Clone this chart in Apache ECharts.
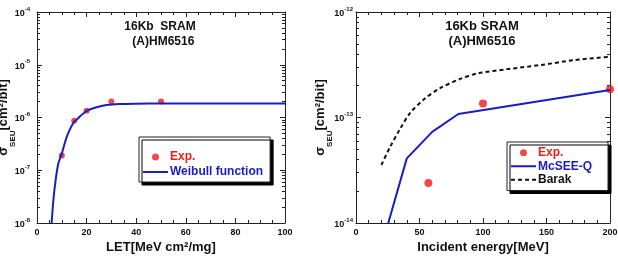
<!DOCTYPE html>
<html>
<head>
<meta charset="utf-8">
<script src="https://cdn.jsdelivr.net/npm/echarts@6/dist/echarts.min.js"></script>
<style>
html, body { margin: 0; padding: 0; background: #fff; }
#main { width: 618px; height: 262px; }
</style>
</head>
<body>
<div id="main"></div>
<script>
// left panel: cross section vs LET
const letExp = [10, 15, 20, 30, 50]
const sigmaLetExp = [1.9e-7, 8.7e-7, 1.34e-6, 2.0e-6, 2.0e-6]
const letFit = [5.9, 6.6, 7.5, 8.6, 10, 12, 14.6, 17.3, 20, 24, 28, 33, 40, 50, 70, 100]
const sigmaLetFit = [1.0e-8, 2.7e-8, 6.4e-8, 1.34e-7, 2.07e-7, 4.3e-7, 7.8e-7, 1.04e-6, 1.34e-6, 1.57e-6, 1.72e-6, 1.8e-6, 1.83e-6, 1.84e-6, 1.84e-6, 1.84e-6]

// right panel: cross section vs proton energy
const energyExp = [57, 100, 200]
const sigmaEnergyExp = [2.4e-14, 1.36e-13, 1.85e-13]
const energyMcsee = [25.4, 40, 60, 80.6, 200]
const sigmaMcsee = [1.0e-14, 4.1e-14, 7.3e-14, 1.08e-13, 1.82e-13]
const energyBarak = [20, 27, 35, 42.5, 53, 66, 82, 96, 120, 146, 172, 200]
const sigmaBarak = [3.55e-14, 5.3e-14, 7.9e-14, 1.1e-13, 1.47e-13, 1.89e-13, 2.32e-13, 2.62e-13, 2.88e-13, 3.15e-13, 3.5e-13, 3.77e-13]

const leftDecades = [-8, -4]
const rightDecades = [-14, -12]

const RED = '#ee1c1c'
const BLUE = '#1c1cc4'
const AX = '#222'
const FONT = '"Liberation Sans", Arial, sans-serif'

// legend icons drawn as thin bars
const solidIcon = 'path://M0,0H25V2H0Z'
const dashIcon = 'path://M0,0H4V2H0Z M7,0H11V2H7Z M14,0H18V2H14Z M21,0H25V2H21Z'

function minorLogTicks(d) {
    let out = []
    for (let e = d[0]; e < d[1]; e++) {
        for (let m = 2; m <= 9; m++) out.push(m * Math.pow(10, e))
    }
    return out
}

const expLabel = {
    formatter: v => '{b|10}{e|' + Math.round(Math.log10(v)) + '}',
    rich: {
        b: { fontSize: 9, fontWeight: 'bold', fontFamily: FONT, color: '#111', lineHeight: 12, verticalAlign: 'bottom' },
        e: { fontSize: 6, fontWeight: 'bold', fontFamily: FONT, color: '#111', lineHeight: 8, verticalAlign: 'top' }
    }
}

const yName = '{b|σ}{sub|SEU}{b|[cm²/bit]}'
const yNameStyle = {
    rich: {
        b: { fontSize: 13, fontWeight: 'bold', fontFamily: FONT, color: '#111', lineHeight: 27 },
        sub: { fontSize: 8, fontWeight: 'bold', fontFamily: FONT, color: '#111', lineHeight: 6, verticalAlign: 'bottom' }
    }
}

function xPair(grid, max, interval, split, name) {
    let base = {
        type: 'value', gridIndex: grid, min: 0, max: max, interval: interval,
        axisLine: { show: true, lineStyle: { color: AX, width: 1 } },
        axisTick: { inside: true, length: 5, lineStyle: { color: AX } },
        minorTick: { show: true, splitNumber: split, length: 3, lineStyle: { color: AX } },
        splitLine: { show: false }
    }
    return [
        Object.assign({}, base, {
            position: 'bottom', name: name, nameLocation: 'middle', nameGap: 18,
            nameMoveOverlap: false,
            nameTextStyle: { fontSize: 13, fontWeight: 'bold', fontFamily: FONT, color: '#111' },
            axisLabel: { fontSize: 9, fontWeight: 'bold', fontFamily: FONT, color: '#111', margin: 5 }
        }),
        Object.assign({}, base, { position: 'top', axisLabel: { show: false } })
    ]
}

function yQuad(grid, dec, labelMargin, nameGap) {
    let base = {
        type: 'log', logBase: 10, gridIndex: grid,
        min: Math.pow(10, dec[0]), max: Math.pow(10, dec[1]),
        splitLine: { show: false }
    }
    let minor = minorLogTicks(dec)
    return [
        Object.assign({}, base, {
            position: 'left',
            axisLine: { show: true, lineStyle: { color: AX } },
            axisTick: { inside: true, length: 5, lineStyle: { color: AX } },
            axisLabel: Object.assign({ margin: labelMargin }, expLabel),
            name: yName, nameLocation: 'middle', nameRotate: 90, nameGap: nameGap,
            nameMoveOverlap: false,
            nameTextStyle: yNameStyle
        }),
        Object.assign({}, base, {
            position: 'left', axisLine: { show: false }, axisLabel: { show: false },
            axisTick: { inside: true, length: 3, customValues: minor, lineStyle: { color: AX } }
        }),
        Object.assign({}, base, {
            position: 'right', axisLine: { show: true, lineStyle: { color: AX } },
            axisLabel: { show: false },
            axisTick: { inside: true, length: 5, lineStyle: { color: AX } }
        }),
        Object.assign({}, base, {
            position: 'right', axisLine: { show: false }, axisLabel: { show: false },
            axisTick: { inside: true, length: 3, customValues: minor, lineStyle: { color: AX } }
        })
    ]
}

function zip(xs, ys) { return xs.map((x, i) => [x, ys[i]]) }

function legendBox(left, top, padding, lineHeight, gap, items) {
    return {
        left: left, top: top, orient: 'vertical', padding: padding, itemGap: gap,
        itemWidth: 25, itemHeight: 7,
        backgroundColor: '#fff', borderColor: AX, borderWidth: 1,
        shadowColor: '#000', shadowBlur: 0, shadowOffsetX: 3, shadowOffsetY: 3,
        textStyle: { fontSize: 12, fontWeight: 'bold', fontFamily: FONT, lineHeight: lineHeight, padding: [0, 0, 0, -3] },
        data: items.map(it => {
            let d = { name: it[0], textStyle: { color: it[1] } }
            if (it[2]) d.icon = it[2]
            return d
        })
    }
}

const titleStyle = { fontSize: 12, fontWeight: 'bold', fontFamily: FONT, color: '#111', lineHeight: 15 }

let chart = echarts.init(document.getElementById('main'))
chart.setOption({
    animation: false,
    title: [
        { text: '16Kb  SRAM\n  (A)HM6516', left: 160, top: 19, padding: 0, textAlign: 'center', textStyle: titleStyle },
        { text: '16Kb SRAM\n(A)HM6516', left: 482, top: 19, padding: 0, textAlign: 'center',
          textStyle: Object.assign({}, titleStyle, { fontSize: 13 }) }
    ],
    grid: [
        { left: 37, top: 12, width: 248, height: 211, containLabel: false, outerBoundsMode: 'none' },
        { left: 356, top: 12, width: 254, height: 211, containLabel: false, outerBoundsMode: 'none' }
    ],
    xAxis: [].concat(
        xPair(0, 100, 20, 4, 'LET[MeV cm²/mg]'),
        xPair(1, 200, 50, 5, 'Incident energy[MeV]')
    ),
    yAxis: [].concat(
        yQuad(0, leftDecades, 7, 20),
        yQuad(1, rightDecades, 3, 22.5)
    ),
    legend: [
        legendBox(139, 137, [13, 7, 3, 4], 14, 1, [['Exp.', RED, 'circle'], ['Weibull function', BLUE, solidIcon]]),
        legendBox(507, 142, [4, 16, 4, 4], 13.5, 0, [['Exp.', RED, 'circle'], ['McSEE-Q', BLUE, solidIcon], ['Barak', '#111', dashIcon]])
    ],
    series: [
        {
            name: 'Weibull function', type: 'line', xAxisIndex: 0, yAxisIndex: 0,
            data: zip(letFit, sigmaLetFit), smooth: 0.3, symbol: 'none',
            lineStyle: { color: BLUE, width: 2 }, itemStyle: { color: BLUE }
        },
        {
            name: 'Exp.', type: 'scatter', xAxisIndex: 0, yAxisIndex: 0,
            data: zip(letExp, sigmaLetExp), symbol: 'circle', symbolSize: 6,
            itemStyle: { color: RED }
        },
        {
            name: 'Barak', type: 'line', xAxisIndex: 2, yAxisIndex: 4,
            data: zip(energyBarak, sigmaBarak), smooth: 0.3, symbol: 'none',
            lineStyle: { color: '#111', width: 2, type: [4, 3] }, itemStyle: { color: '#111' }
        },
        {
            name: 'McSEE-Q', type: 'line', xAxisIndex: 2, yAxisIndex: 4,
            data: zip(energyMcsee, sigmaMcsee), symbol: 'none',
            lineStyle: { color: BLUE, width: 2 }, itemStyle: { color: BLUE }
        },
        {
            name: 'Exp.', type: 'scatter', xAxisIndex: 2, yAxisIndex: 4,
            data: zip(energyExp, sigmaEnergyExp), symbol: 'circle', symbolSize: 8,
            itemStyle: { color: RED }
        }
    ]
})
</script>
</body>
</html>
